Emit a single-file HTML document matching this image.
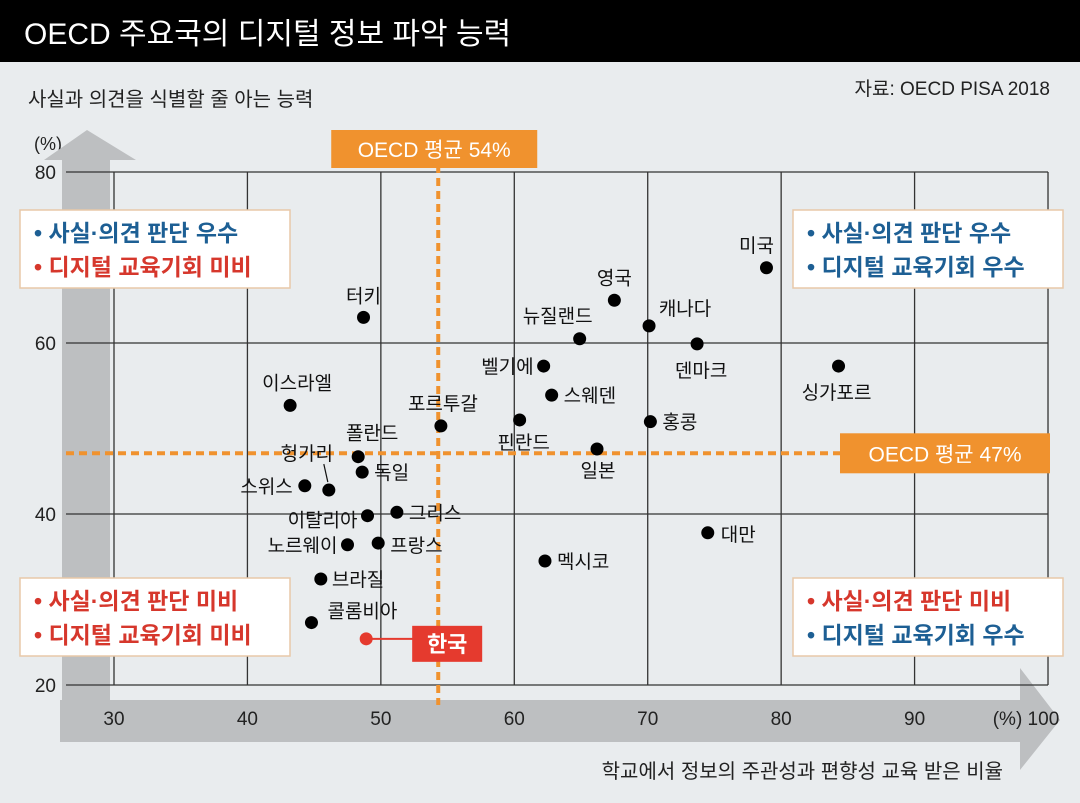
<!DOCTYPE html>
<html><head><meta charset="utf-8">
<style>
body{margin:0;background:#e9ecee;font-family:"Liberation Sans","Noto Sans CJK KR",sans-serif;}
svg text{font-family:"Liberation Sans","Noto Sans CJK KR",sans-serif;}
</style></head>
<body>
<svg id="chart" width="1080" height="798" viewBox="0 0 1080 798" xmlns="http://www.w3.org/2000/svg">
<rect x="0" y="0" width="1080" height="798" fill="#e9ecee"/>
<rect x="0" y="0" width="1080" height="62" fill="#000"/>
<text x="24" y="44" font-size="30" fill="#fff">OECD 주요국의 디지털 정보 파악 능력</text>
<text x="1050" y="95" font-size="19" fill="#222" text-anchor="end">자료: OECD PISA 2018</text>
<text x="28" y="106" font-size="20" fill="#222">사실과 의견을 식별할 줄 아는 능력</text>
<text x="34" y="150" font-size="18" fill="#222">(%)</text>
<polygon points="62,740 62,160 44,160 87,130 136,160 110,160 110,740" fill="#bdbfc1"/>
<polygon points="60,700 1020,700 1020,668 1060,720 1020,770 1020,742 60,742" fill="#bdbfc1"/>
<g id="grid"></g>
<g id="avg"></g>
<g id="marks"></g>
<g id="quads"></g>
<text x="1003" y="778" font-size="20" fill="#222" text-anchor="end">학교에서 정보의 주관성과 편향성 교육 받은 비율</text>
</svg>
<script>
const countries=["터키","미국","영국","캐나다","뉴질랜드","덴마크","싱가포르","벨기에","이스라엘","스웨덴","포르투갈","핀란드","홍콩","일본","폴란드","독일","헝가리","스위스","그리스","이탈리아","노르웨이","프랑스","대만","멕시코","브라질","콜롬비아","한국"];
const xValues=[48.7,78.9,67.5,70.1,64.9,73.7,84.3,62.2,43.2,62.8,54.5,60.4,70.2,66.2,48.3,48.6,46.1,44.3,51.2,49.0,47.5,49.8,74.5,62.3,45.5,44.8,48.9];
const yValues=[63.0,68.8,65.0,62.0,60.5,59.9,57.3,57.3,52.7,53.9,50.3,51.0,50.8,47.6,46.7,44.9,42.8,43.3,40.2,39.8,36.4,36.6,37.8,34.5,32.4,27.3,25.4];
const xTicks=[30,40,50,60,70,80,90,100];
const yTicks=[20,40,60,80];
const oecdX=54.3, oecdY=47.1;
const labelOffsets=[[0,-22,"middle"],[-10,-23,"middle"],[0,-23,"middle"],[36,-18,"middle"],[-22,-23,"middle"],[4,26,"middle"],[-2,26,"middle"],[-10,0,"end"],[7,-23,"middle"],[12,0,"start"],[2,-23,"middle"],[4,22,"middle"],[12,0,"start"],[1,21,"middle"],[14,-24,"middle"],[12,0,"start"],[-22,-37,"middle"],[-12,0,"end"],[12,0,"start"],[-10,4,"end"],[-10,0,"end"],[12,2,"start"],[13,1,"start"],[12,0,"start"],[11,0,"start"],[16,-12,"start"]];
const X=v=>114+(v-30)*13.343;
const Y=v=>172+(80-v)*8.55;
const NS="http://www.w3.org/2000/svg";
function mk(parent,tag,attrs,txt){const e=document.createElementNS(NS,tag);for(const k in attrs)e.setAttribute(k,attrs[k]);if(txt!==undefined)e.textContent=txt;parent.appendChild(e);return e;}
const grid=document.getElementById('grid');
xTicks.forEach(t=>{
  if(t<100){const l=mk(grid,'line',{x1:X(t),x2:X(t),y1:Y(80),y2:Y(20),stroke:'#333','stroke-width':1.3});
  
  }
  const tx=mk(grid,'text',{x:X(t),y:725,'font-size':19,'text-anchor':'middle',fill:'#222'},t===100?'(%) 100':String(t));
  if(t===100)tx.setAttribute('x',X(t)-22);
  
  
});
mk(grid,'line',{x1:X(100),x2:X(100),y1:Y(80),y2:Y(20),stroke:'#333','stroke-width':1.3});
yTicks.forEach(t=>{
  const l=mk(grid,'line',{x1:66,x2:X(100),y1:Y(t),y2:Y(t),stroke:'#333','stroke-width':1.3});
  
  
  const tx=mk(grid,'text',{x:56,y:Y(t)+7,'font-size':19,'text-anchor':'end',fill:'#222'},String(t));
  
  
});
const avg=document.getElementById('avg');
const vl=mk(avg,'line',{x1:X(oecdX),x2:X(oecdX),y1:165,y2:705,stroke:'#f0922e','stroke-width':4,'stroke-dasharray':'8,5'});


const hl=mk(avg,'line',{x1:66,x2:1040,y1:Y(oecdY),y2:Y(oecdY),stroke:'#f0922e','stroke-width':4,'stroke-dasharray':'8,5'});


const b1=mk(avg,'rect',{x:X(oecdX)-107,y:130,width:206,height:38,fill:'#f0922e'});


const t1=mk(avg,'text',{x:X(oecdX)-4,y:157,'font-size':21,fill:'#fff','text-anchor':'middle'},'OECD 평균 54%');


const b2=mk(avg,'rect',{x:840,y:Y(oecdY)-20,width:210,height:40,fill:'#f0922e'});


const t2=mk(avg,'text',{x:945,y:Y(oecdY)+8,'font-size':21,fill:'#fff','text-anchor':'middle'},'OECD 평균 47%');


const marks=document.getElementById('marks');
countries.forEach((c,i)=>{
  const cx=X(xValues[i]),cy=Y(yValues[i]);
  const korea=c==='한국';
  const dot=mk(marks,'circle',{cx:cx,cy:cy,r:korea?6.5:6.5,fill:korea?'#e53a2e':'#000'});
  
  
  if(korea){
    mk(marks,'line',{x1:cx,y1:cy,x2:cx+50,y2:cy,stroke:'#e53a2e','stroke-width':2});
    const rb=mk(marks,'rect',{x:cx+46,y:cy-13,width:70,height:36,fill:'#e53a2e'});
    
    
    const kt=mk(marks,'text',{x:cx+81,y:cy+13,'font-size':22,'font-weight':'bold',fill:'#fff','text-anchor':'middle'},c);
    
    
  }else{
    const o=labelOffsets[i];
    const lt=mk(marks,'text',{x:cx+o[0],y:cy+o[1]+7,'font-size':19,fill:'#111','text-anchor':o[2]},c);
    
    
    if(c==='헝가리')mk(marks,'line',{x1:cx-5,y1:cy-26,x2:cx-1,y2:cy-8,stroke:'#111','stroke-width':1.2});
  }
});
const quads=document.getElementById('quads');
const qdata=[[20,210,"사실·의견 판단 우수","#1d5f94","디지털 교육기회 미비","#d6372c","quadrant-top-left"],
[793,210,"사실·의견 판단 우수","#1d5f94","디지털 교육기회 우수","#1d5f94","quadrant-top-right"],
[20,578,"사실·의견 판단 미비","#d6372c","디지털 교육기회 미비","#d6372c","quadrant-bottom-left"],
[793,578,"사실·의견 판단 미비","#d6372c","디지털 교육기회 우수","#1d5f94","quadrant-bottom-right"]];
qdata.forEach(q=>{
  const g=mk(quads,'g',{});
  
  
  mk(g,'rect',{x:q[0],y:q[1],width:270,height:78,fill:'#fff',stroke:'#e8c8a8','stroke-width':1.5});
  mk(g,'text',{x:q[0]+14,y:q[1]+31,'font-size':23,'font-weight':'bold',fill:q[3]},'• '+q[2]);
  mk(g,'text',{x:q[0]+14,y:q[1]+65,'font-size':23,'font-weight':'bold',fill:q[5]},'• '+q[4]);
});
</script>
</body></html>
